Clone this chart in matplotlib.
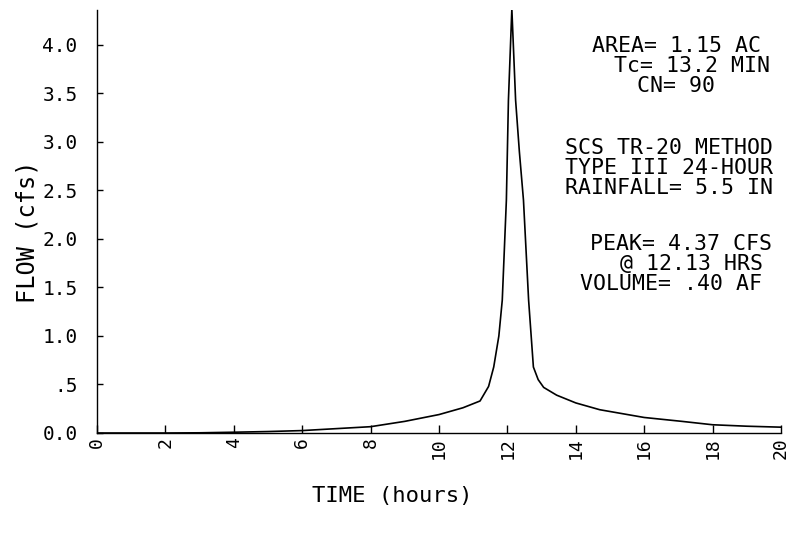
import matplotlib
matplotlib.use("Agg")
import matplotlib.pyplot as plt

# ---- data ----
time_hr = [0, 2, 3, 4, 5, 6, 7, 8, 9, 10, 10.7, 11.2, 11.45, 11.6, 11.75, 11.85,
           11.97, 12.03, 12.13, 12.24, 12.35, 12.47, 12.62, 12.76, 12.9, 13.06,
           13.44, 14, 14.7, 16, 17.1, 18, 19, 20]
flow_cfs = [0, 0, 0.002, 0.008, 0.015, 0.025, 0.045, 0.065, 0.12, 0.19, 0.26, 0.33,
            0.48, 0.68, 1.0, 1.37, 2.4, 3.43, 4.37, 3.43, 2.9, 2.4, 1.37, 0.68,
            0.55, 0.47, 0.39, 0.31, 0.24, 0.16, 0.12, 0.085, 0.07, 0.06]

x_ticks = [0, 2, 4, 6, 8, 10, 12, 14, 16, 18, 20]
x_tick_labels = ["0", "2", "4", "6", "8", "10", "12", "14", "16", "18", "20"]
y_ticks = [0.0, 0.5, 1.0, 1.5, 2.0, 2.5, 3.0, 3.5, 4.0]
y_tick_labels = ["0.0", ".5", "1.0", "1.5", "2.0", "2.5", "3.0", "3.5", "4.0"]

info_lines = ["AREA= 1.15 AC", "Tc= 13.2 MIN", "CN= 90",
              "SCS TR-20 METHOD", "TYPE III 24-HOUR", "RAINFALL= 5.5 IN",
              "PEAK= 4.37 CFS", "@ 12.13 HRS", "VOLUME= .40 AF"]
# pixel centres (x, y from top) of each info line
info_pos = [(677, 46), (692, 66), (676, 86),
            (669, 148), (669, 168), (669, 188),
            (681, 244), (692, 264), (671, 284)]

W, H = 790, 533
FONT = "DejaVu Sans Mono"

fig = plt.figure(figsize=(W / 100, H / 100), dpi=100)
ax = fig.add_axes([97 / W, (H - 433) / H, (781 - 97) / W, (433 - 10) / H])

ax.plot(time_hr, flow_cfs, color="black", linewidth=1.2)
ax.set_xlim(0, 20)
ax.set_ylim(0, 4.36)

for s in ["top", "right"]:
    ax.spines[s].set_visible(False)
for s in ["left", "bottom"]:
    ax.spines[s].set_linewidth(1.0)

ax.set_xticks(x_ticks)
ax.set_xticklabels(x_tick_labels, rotation=90, family=FONT, fontsize=13,
                   va="top", ha="center")
ax.set_yticks(y_ticks)
ax.set_yticklabels(y_tick_labels, family=FONT, fontsize=14)
ax.tick_params(axis="x", direction="in", length=6, width=1, pad=3)
ax.tick_params(axis="y", direction="in", length=4, width=1, pad=14)

fig.text(28 / W, 1 - 232 / H, "FLOW (cfs)", rotation=90, ha="center", va="center",
         family=FONT, fontsize=17)
fig.text(392 / W, 1 - 496 / H, "TIME (hours)", ha="center", va="center",
         family=FONT, fontsize=16)

for line, (px, py) in zip(info_lines, info_pos):
    fig.text(px / W, 1 - py / H, line, ha="center", va="center",
             family=FONT, fontsize=15.5)

fig.savefig("out.png", dpi=100, facecolor="white")
